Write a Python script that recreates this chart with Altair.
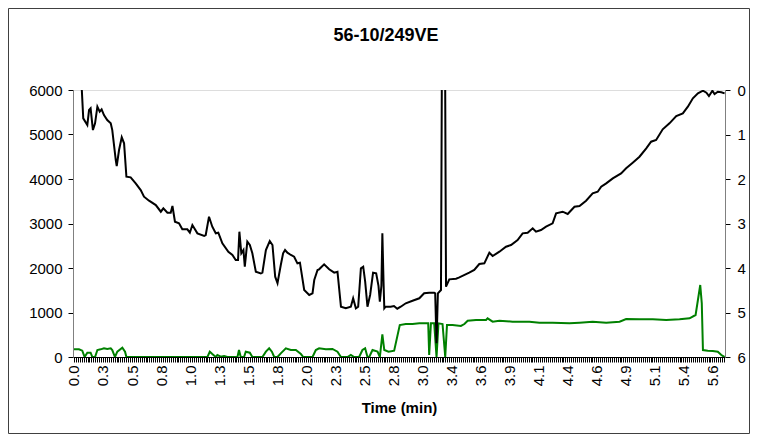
import altair as alt
import pandas as pd

chart_title = "56-10/249VE"
x_title = "Time (min)"
x_tick_labels = ["0.0", "0.3", "0.5", "0.8", "1.0", "1.3", "1.5", "1.8", "2.0", "2.3", "2.5",
                 "2.8", "3.0", "3.4", "3.6", "3.9", "4.1", "4.4", "4.6", "4.9", "5.1", "5.4", "5.6"]
n_scans = 337
label_every = 15
left_ticks = [0, 1000, 2000, 3000, 4000, 5000, 6000]
right_ticks = [0, 1, 2, 3, 4, 5, 6]

black_scan = [4.0, 4.8, 6.9, 7.8, 8.6, 9.8, 10.9, 12.1, 13.3, 14.3, 15.5, 17.2, 19.0, 19.8, 21.6, 22.1,
              23.3, 24.7, 25.9, 27.1, 29.3, 31.9, 34.5, 36.2, 38.8, 42.3, 44.9, 46.2, 48.3, 50.0, 50.9,
              52.2, 54.3, 56.0, 58.6, 59.9, 61.2, 63.8, 67.3, 68.1, 69.8, 71.5, 73.3, 74.6, 76.7, 79.8,
              81.9, 83.6, 84.8, 85.5, 86.5, 87.6, 88.3, 89.6, 90.9, 92.2, 94.0, 96.6, 97.4, 99.2, 101.2,
              102.6, 104.0, 105.2, 106.9, 108.1, 109.1, 110.3, 112.1, 113.8, 115.5, 116.8, 119.0, 121.6,
              123.3, 124.2, 125.9, 126.7, 129.3, 131.9, 134.5, 136.2, 138.0, 140.5, 143.1, 144.3, 145.7,
              146.9, 148.3, 149.5, 150.5, 151.7, 153.1, 154.6, 156.2, 157.4, 158.1, 158.9, 159.4, 160.0,
              160.4, 161.1, 163.7, 165.4, 167.1, 168.9, 171.5, 175.0, 178.5, 181.0, 183.6, 186.2, 186.7,
              187.4, 188.1, 189.7, 190.4, 191.6, 192.3, 194.0, 197.5, 199.2, 204.3, 206.9, 209.5, 212.1,
              214.7, 216.4, 219.9, 223.3, 225.9, 229.3, 231.9, 234.5, 237.1, 238.8, 241.4, 244.0, 247.4,
              249.2, 252.6, 255.2, 258.7, 261.3, 264.7, 268.1, 270.7, 272.5, 275.1, 278.5, 282.8, 285.4,
              288.8, 292.3, 295.8, 298.3, 300.9, 304.3, 307.8, 311.3, 314.7, 317.3, 319.9, 322.5, 325.1,
              326.9, 328.2, 330.0, 331.1, 332.8, 334.6, 336.3]
black_value = [6050, 5363, 5213, 5550, 5588, 5100, 5251, 5625, 5513, 5565, 5438, 5326, 5251, 5100, 4427, 4292,
               4651, 4937, 4802, 4052, 4037, 3903, 3752, 3602, 3512, 3415, 3265, 3341, 3242, 3242, 3393,
               3040, 3004, 2869, 2869, 2793, 2966, 2779, 2719, 2741, 3153, 2928, 2779, 2793, 2555, 2366,
               2292, 2179, 2179, 2816, 2330, 2404, 2029, 2591, 2517, 2330, 1917, 1880, 1895, 2404, 2607,
               2517, 1805, 1660, 2067, 2330, 2404, 2344, 2292, 2254, 2105, 2119, 1506, 1393,
               1431, 1730, 1955, 1970, 2082, 1970, 1895, 1917, 1130, 1094, 1130, 1319, 1094,
               1130, 1993, 2029, 1700, 1130, 1400, 1895, 1880, 1600, 1243, 1600, 2779, 1700,
               1094, 1130, 1130, 1145, 1085, 1130, 1207, 1265, 1319, 1431, 1445, 1445, 1431,
               307, 1431, 1506, 9000, 9000, 1580, 1745, 1760, 1790, 1895, 1955, 2090, 2105,
               2344, 2269, 2366, 2479, 2517, 2629, 2779, 2793, 2892, 2816, 2854, 2928, 3004,
               3229, 3265, 3213, 3377, 3393, 3512, 3678, 3714, 3827, 3903, 4015, 4127, 4240,
               4366, 4500, 4689, 4838, 4876, 5116, 5251, 5415, 5476, 5625, 5813, 5925, 5984,
               5939, 5865, 5984, 5909, 5962, 5950, 5925]

green_scan = [0.0, 2.6, 4.3, 5.5, 6.9, 8.6, 9.5, 10.9, 12.1, 13.8, 15.5, 17.2, 19.0, 19.8, 21.2, 22.4, 25.0,
              26.4, 27.1, 69.0, 70.2, 71.5, 73.3, 74.1, 75.9, 77.6, 79.3, 84.5, 85.3, 86.2, 87.9, 88.8,
              90.9, 92.2, 97.4, 99.2, 100.9, 102.3, 103.5, 105.2, 106.9, 109.5, 112.1, 114.7, 117.3, 118.5,
              123.3, 125.0, 126.7, 130.2, 133.6, 136.2, 138.0, 141.4, 143.1, 144.8, 147.4, 149.1, 150.5,
              151.7, 152.6, 154.3, 156.9, 158.1, 159.4, 160.4, 162.6, 165.5, 168.4, 171.5, 175.0, 178.5,
              181.9, 183.1, 183.6, 184.5, 186.2, 187.4, 188.4, 190.5, 191.9, 192.8, 195.7, 200.0, 201.8,
              203.5, 207.8, 213.0, 213.8, 216.4, 219.9, 226.7, 235.4, 240.6, 247.4, 256.1, 261.3, 268.1,
              275.1, 282.0, 285.4, 292.3, 299.2, 306.1, 313.0, 318.2, 321.3, 322.5, 323.7, 324.5, 325.1,
              327.6, 330.2, 332.8, 334.6, 336.3]
green_value = [172, 172, 142, 0, 97, 97, 0, 0, 157, 172, 195, 180, 195, 157, 0, 120, 210,
               120, 0, 0, 120, 67, 0, 45, 7, 22, 0, 0, 157, 0, 0, 120,
               97, 0, 0, 120, 195, 120, 0, 0, 82, 195, 157, 157, 67, 0,
               0, 157, 195, 172, 180, 120, 0, 0, 45, 0, 0, 157, 195,
               0, 0, 157, 120, 0, 510, 157, 120, 142, 719, 741, 741, 756,
               756, 756, 45, 756, 756, 0, 756, 741, 0, 719, 719, 697, 741,
               816, 831, 831, 869, 794, 816, 794, 794, 771, 771, 756, 771, 794,
               771, 794, 854, 846, 846, 831, 846, 869, 944, 1281, 1618, 1206, 157,
               142, 135, 120, 45, 0]

FONT = "Liberation Sans"

df = pd.concat([
    pd.DataFrame({"scan": green_scan, "value": green_value, "series": "green"}),
    pd.DataFrame({"scan": black_scan, "value": black_value, "series": "black"}),
], ignore_index=True)

labels_js = "[" + ",".join("'%s'" % s for s in x_tick_labels) + "]"
label_expr = "datum.value %% %d == 0 ? %s[floor(datum.value / %d)] : ''" % (label_every, labels_js, label_every)

x_axis = alt.Axis(values=list(range(n_scans)), labelExpr=label_expr, labelAngle=270,
                  labelOverlap=False, labelFlush=False, tickSize=5, tickColor="#000000",
                  tickWidth=1, domainColor="#000000", labelFont=FONT, labelFontSize=15,
                  labelColor="#000000", labelPadding=3, title=x_title, titleFont=FONT,
                  titleFontSize=15, titleFontWeight="bold", titleColor="#000000",
                  titlePadding=15, grid=False)

x_enc = alt.X("scan:Q", scale=alt.Scale(domain=[-0.5, n_scans - 0.5], nice=False, zero=False),
              axis=x_axis)

lines = alt.Chart(df).mark_line(strokeWidth=2, clip=True).encode(
    x=x_enc,
    y=alt.Y("value:Q", scale=alt.Scale(domain=[0, 6000], nice=False),
            axis=alt.Axis(values=left_ticks, format="d", tickSize=5, tickColor="#000000",
                          domainColor="#808080", labelFont=FONT, labelFontSize=15,
                          labelColor="#000000", labelPadding=6, title=None, grid=False)),
    color=alt.Color("series:N", scale=alt.Scale(domain=["green", "black"], range=["#008000", "#000000"]),
                    legend=None),
    detail="series:N",
)

right_df = pd.DataFrame({"r": right_ticks})
right = alt.Chart(right_df).mark_point(opacity=0).encode(
    x=alt.value(0),
    y=alt.Y("r:Q", scale=alt.Scale(domain=[0, 6], reverse=True, nice=False),
            axis=alt.Axis(orient="right", values=right_ticks, format="d", tickSize=5,
                          tickColor="#000000", domainColor="#808080", labelFont=FONT,
                          labelFontSize=15, labelColor="#000000", labelPadding=7,
                          title=None, grid=False)),
)

frame = alt.Chart(pd.DataFrame({"k": [0]})).mark_rect(
    fillOpacity=0, stroke="#404040", strokeWidth=1, clip=False
).encode(
    x=alt.value(-64.5), x2=alt.value(676.5), y=alt.value(-81.5), y2=alt.value(343.5)
)

chart = alt.layer(lines, right, frame).resolve_scale(y="independent").properties(
    width=652, height=267,
    padding={"left": 65, "top": 82, "right": 25, "bottom": 77},
    autosize=alt.AutoSizeParams(type="none"),
    title=alt.TitleParams(chart_title, font=FONT, fontSize=18, fontWeight="bold", color="#000000",
                          anchor="middle", frame="group", dx=-13, offset=-37),
).configure_view(stroke=None).configure(background="white")

chart.save("out.html", embed_options={"renderer": "svg", "actions": False})
